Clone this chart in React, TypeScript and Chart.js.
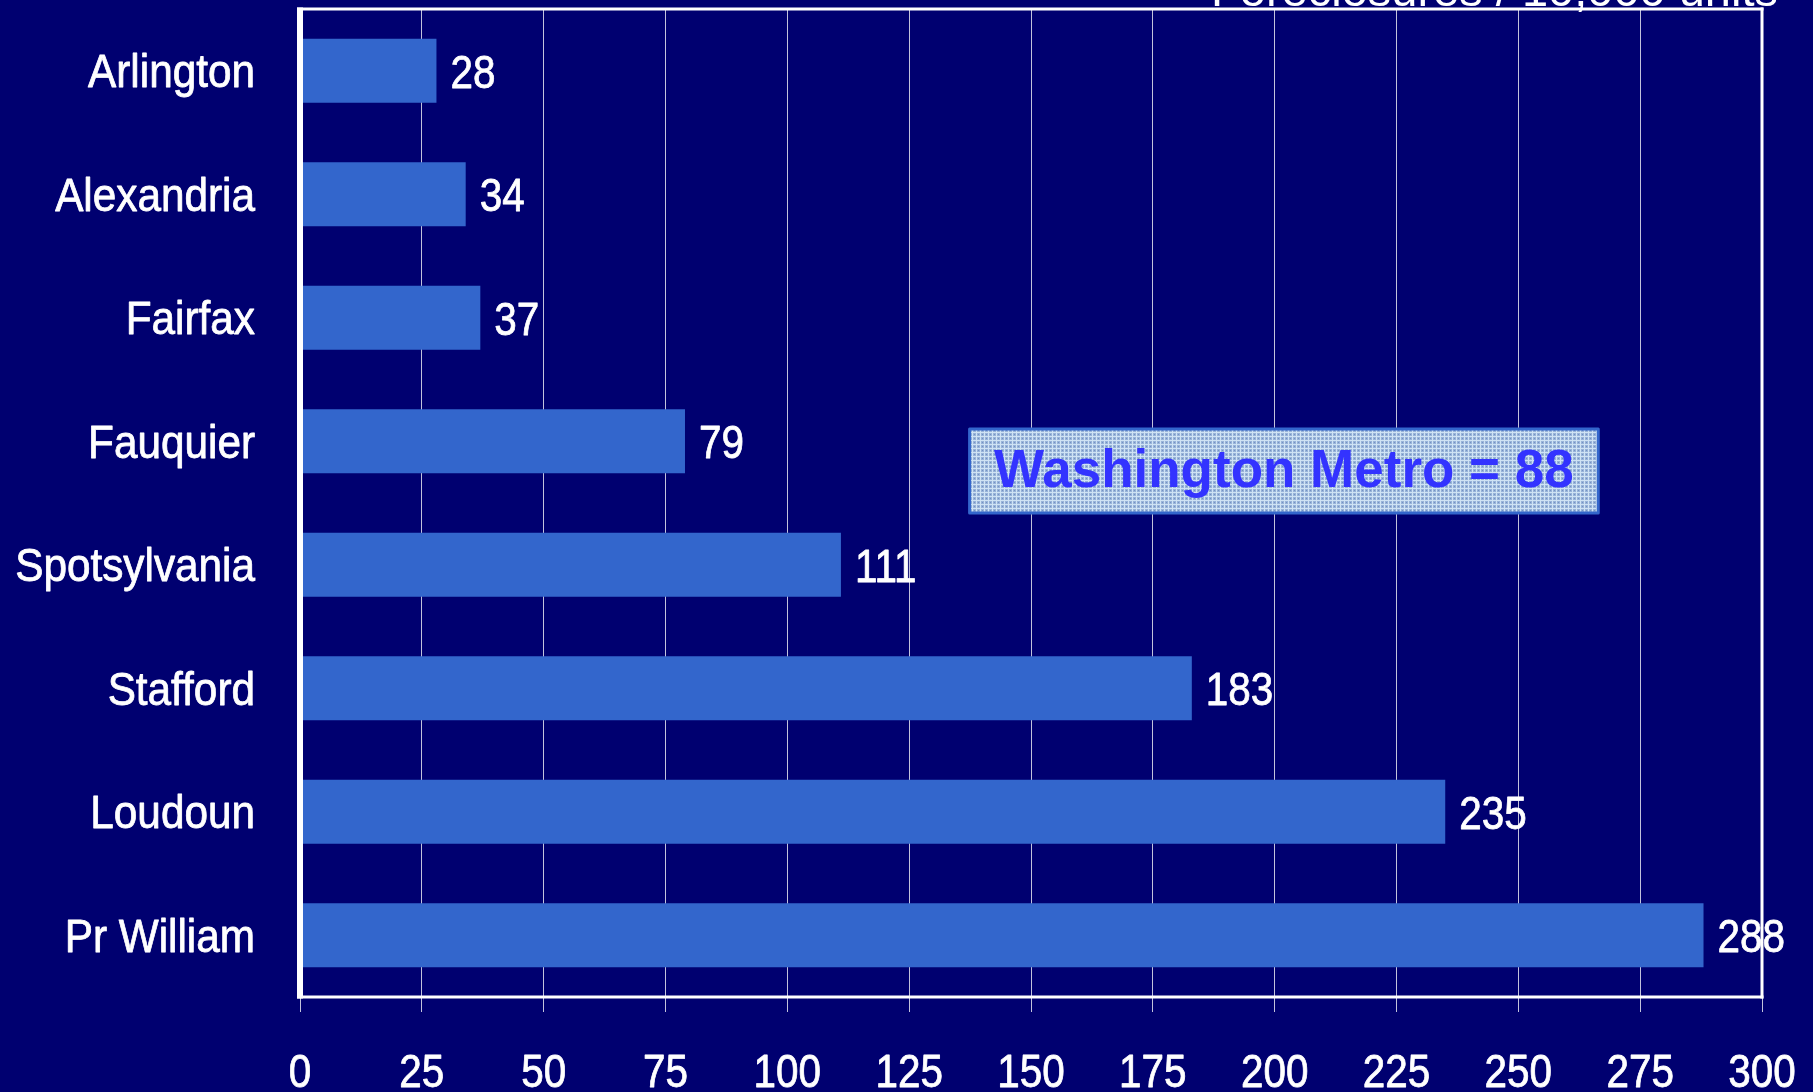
import React, { useEffect, useRef } from 'react';
import { Chart, registerables } from 'chart.js';

Chart.register(...registerables);

const categories = ['Arlington', 'Alexandria', 'Fairfax', 'Fauquier', 'Spotsylvania', 'Stafford', 'Loudoun', 'Pr William'];
const values = [28, 34, 37, 79, 111, 183, 235, 288];
const xMin = 0;
const xMax = 300;
const xStep = 25;
const titleText = 'Foreclosures / 10,000 units';
const annotationText = 'Washington Metro = 88';

const NAVY = '#000070';
const BAR = '#3366CC';
const GRID = 'rgba(205,205,225,0.95)';
const SANS = "'Liberation Sans', Arial, Helvetica, sans-serif";
const LABEL_FONT = `47px ${SANS}`;
const NUM_SCALE = 0.86;
const NAME_SCALE = 0.9;

function makePattern(ctx: CanvasRenderingContext2D) {
  const c = document.createElement('canvas');
  c.width = 4;
  c.height = 4;
  const p = c.getContext('2d')!;
  p.fillStyle = '#98B3D9';
  p.fillRect(0, 0, 4, 4);
  p.fillStyle = '#CFE3F4';
  p.fillRect(0, 0, 4, 1);
  p.fillRect(0, 0, 1, 4);
  p.fillStyle = '#7392C2';
  p.fillRect(2, 2, 1, 1);
  return ctx.createPattern(c, 'repeat');
}

function drawScaledText(ctx: CanvasRenderingContext2D, text: string, x: number, y: number, align: CanvasTextAlign, sx: number) {
  ctx.save();
  ctx.translate(x, y);
  ctx.scale(sx, 1);
  ctx.textAlign = align;
  ctx.fillText(text, 0, 0);
  ctx.strokeText(text, 0, 0);
  ctx.restore();
}

const bgPlugin = {
  id: 'bgPlugin',
  beforeDraw(chart: any) {
    const ctx = chart.ctx;
    ctx.save();
    ctx.fillStyle = NAVY;
    ctx.fillRect(0, 0, chart.width, chart.height);
    ctx.restore();
  },
};

const decorPlugin = {
  id: 'decorPlugin',
  afterDatasetsDraw(chart: any) {
    const ctx: CanvasRenderingContext2D = chart.ctx;
    const { left, right, top, bottom } = chart.chartArea;
    const xs = chart.scales.x;
    const ys = chart.scales.y;
    ctx.save();

    // frame
    ctx.fillStyle = '#FFFFFF';
    ctx.fillRect(left - 3, top - 1.5, right - left + 4.5, 3);
    ctx.fillRect(left - 3, bottom - 1.5, right - left + 4.5, 3);
    ctx.fillRect(left - 3, top - 1.5, 6, bottom - top + 3);
    ctx.fillRect(right - 1.5, top - 1.5, 3, bottom - top + 3);

    ctx.font = LABEL_FONT;
    ctx.fillStyle = '#FFFFFF';
    ctx.strokeStyle = '#FFFFFF';
    ctx.lineWidth = 0.8;
    ctx.lineJoin = 'round';
    ctx.textBaseline = 'alphabetic';

    // x tick labels
    xs.ticks.forEach((t: any, i: number) => {
      const px = xs.getPixelForTick(i);
      drawScaledText(ctx, String(t.value), px, bottom + 90, 'center', NUM_SCALE);
    });

    // category labels
    ys.ticks.forEach((t: any, i: number) => {
      const py = ys.getPixelForTick(i);
      drawScaledText(ctx, categories[i], left - 45, py + 16.5, 'right', NAME_SCALE);
    });

    // value labels
    const meta = chart.getDatasetMeta(0);
    meta.data.forEach((el: any, i: number) => {
      drawScaledText(ctx, String(values[i]), el.x + 14, el.y + 17, 'left', NUM_SCALE);
    });

    // annotation box
    const bx0 = xs.getPixelForValue(137.4);
    const bx1 = xs.getPixelForValue(266.4);
    const by0 = ys.getPixelForValue(2.9);
    const by1 = ys.getPixelForValue(3.58);
    ctx.fillStyle = makePattern(ctx) as any;
    ctx.fillRect(bx0, by0, bx1 - bx0, by1 - by0);
    ctx.strokeStyle = BAR;
    ctx.lineWidth = 3;
    ctx.strokeRect(bx0, by0, bx1 - bx0, by1 - by0);
    ctx.font = `bold 53px ${SANS}`;
    ctx.fillStyle = '#3333FF';
    ctx.textAlign = 'center';
    ctx.textBaseline = 'middle';
    ctx.fillText(annotationText, (bx0 + bx1) / 2, (by0 + by1) / 2 + 2);

    // title (mostly cut off at top)
    ctx.font = `47px ${SANS}`;
    ctx.fillStyle = '#FFFFFF';
    ctx.textAlign = 'right';
    ctx.textBaseline = 'alphabetic';
    ctx.fillText(titleText, 1778, 6);

    ctx.restore();
  },
};

function zeroPadding(scale: any) {
  scale.paddingTop = 0;
  scale.paddingBottom = 0;
  scale.paddingLeft = 0;
  scale.paddingRight = 0;
}

export default function App() {
  const ref = useRef<HTMLCanvasElement>(null);

  useEffect(() => {
    document.body.style.margin = '0';
    const canvas = ref.current!;
    const chart = new Chart(canvas, {
      type: 'bar',
      data: {
        labels: categories,
        datasets: [
          {
            data: values,
            backgroundColor: BAR,
            borderWidth: 0,
            barPercentage: 0.52,
            categoryPercentage: 1,
          },
        ],
      },
      options: {
        indexAxis: 'y',
        responsive: false,
        animation: false,
        devicePixelRatio: 1,
        layout: { padding: { top: 9, right: 51, left: 0, bottom: 0 } },
        plugins: {
          legend: { display: false },
          tooltip: { enabled: false },
          title: { display: false },
        },
        scales: {
          x: {
            type: 'linear',
            min: xMin,
            max: xMax,
            afterFit(scale: any) {
              scale.height = 95;
              zeroPadding(scale);
            },
            ticks: {
              display: false,
              stepSize: xStep,
              autoSkip: false,
            },
            grid: {
              display: true,
              color: GRID,
              lineWidth: 1,
              drawTicks: true,
              tickLength: 15,
              tickColor: GRID,
            },
            border: { display: false },
          },
          y: {
            type: 'category',
            afterFit(scale: any) {
              scale.width = 300;
              zeroPadding(scale);
            },
            ticks: { display: false, autoSkip: false },
            grid: { display: false, drawTicks: false },
            border: { display: false },
          },
        },
      },
      plugins: [bgPlugin, decorPlugin],
    });
    return () => chart.destroy();
  }, []);

  return (
    <div style={{ position: 'fixed', left: 0, top: 0, width: 1813, height: 1092, background: NAVY }}>
      <canvas ref={ref} width={1813} height={1092} style={{ display: 'block' }} />
    </div>
  );
}
